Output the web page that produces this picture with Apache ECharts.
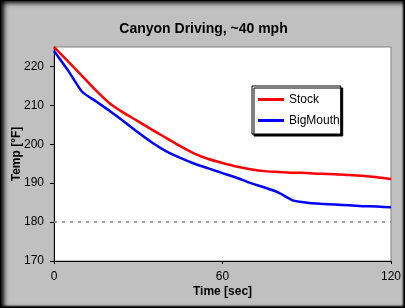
<!DOCTYPE html>
<html>
<head>
<meta charset="utf-8">
<script src="https://cdn.jsdelivr.net/npm/echarts@6/dist/echarts.min.js"></script>
<style>
  html, body { margin: 0; padding: 0; background: #c0c0c0; }
  #frame {
    position: relative; width: 405px; height: 308px; box-sizing: border-box;
    border: 1px solid #000; background: #c0c0c0;
    box-shadow: inset 3px 2px 5px #000, inset -1px -1px 2px #000;
  }
  #canyonChart { position: absolute; left: 0; top: 0; width: 405px; height: 308px; }
</style>
</head>
<body>
<div id="frame"><div id="canyonChart"></div></div>
<script>
// time in seconds
const timeSec = [0, 5, 10, 15, 20, 25, 30, 35, 40, 45, 50, 55, 60, 65, 70, 75, 80, 85, 90, 95, 100, 105, 110, 115, 120];
const stockTemp = [225, 221.3, 217.6, 213.8, 210.4, 208.0, 205.9, 203.7, 201.6, 199.5, 197.6, 196.2, 195.2, 194.3, 193.6, 193.1, 192.9, 192.7, 192.6, 192.4, 192.3, 192.1, 191.9, 191.5, 191.1];
const bigMouthTemp = [224, 219, 213.5, 211, 208.5, 205.8, 203, 200.4, 198.2, 196.5, 195, 193.8, 192.6, 191.4, 190, 188.9, 187.6, 185.6, 185, 184.7, 184.5, 184.3, 184.1, 184, 183.8];
const yTicks = [170, 180, 190, 200, 210, 220];
const xTicks = [0, 60, 120];
const limitTemp = 180;

const font = 'Arial, "Liberation Sans", sans-serif';
const pair = (xs, ys) => xs.map((x, i) => [x, ys[i]]);

const option = {
  animation: false,
  title: {
    text: 'Canyon Driving, ~40 mph',
    left: 'center', top: 16,
    textStyle: {fontFamily: font, fontSize: 14, fontWeight: 'bold', color: '#000'}
  },
  grid: {
    left: 53, right: 15, top: 46, bottom: 48, outerBoundsMode: 'none', containLabel: false,
    show: true, backgroundColor: '#fff', borderColor: '#808080', borderWidth: 1
  },
  legend: {
    orient: 'vertical', left: 251, top: 85,
    padding: [7, 1, 7, 6],
    itemWidth: 26, itemHeight: 3, itemGap: 8,
    icon: 'rect',
    backgroundColor: '#fff', borderColor: '#000', borderWidth: 1,
    shadowColor: '#000', shadowOffsetX: 2, shadowOffsetY: 2, shadowBlur: 0,
    textStyle: {fontFamily: font, fontSize: 12, color: '#000', lineHeight: 13},
    data: ['Stock', 'BigMouth']
  },
  xAxis: {
    type: 'value', min: 0, max: 120, interval: 60,
    name: 'Time [sec]', nameLocation: 'middle', nameGap: 25, nameMoveOverlap: false,
    nameTextStyle: {fontFamily: font, fontSize: 12, fontWeight: 'bold', color: '#000'},
    axisLine: {show: true, lineStyle: {color: '#000', width: 1}},
    axisTick: {show: true, length: 3, lineStyle: {color: '#000'}, customValues: xTicks},
    axisLabel: {fontFamily: font, fontSize: 12, color: '#000', margin: 10, customValues: xTicks},
    splitLine: {show: false}
  },
  yAxis: {
    type: 'value', min: 170, max: 225, interval: 10,
    name: 'Temp [°F]', nameLocation: 'middle', nameGap: 31, nameMoveOverlap: false,
    nameTextStyle: {fontFamily: font, fontSize: 12, fontWeight: 'bold', color: '#000'},
    axisLine: {show: true, lineStyle: {color: '#000', width: 1}},
    axisTick: {show: true, length: 4, lineStyle: {color: '#000'}, customValues: yTicks},
    axisLabel: {fontFamily: font, fontSize: 12, color: '#000', margin: 10, customValues: yTicks},
    splitLine: {show: false}
  },
  series: [
    {
      name: 'Stock', type: 'line', symbol: 'none', color: '#ff0000', smooth: 0.3,
      lineStyle: {width: 2.5}, data: pair(timeSec, stockTemp),
      markLine: {
        silent: true, symbol: 'none', label: {show: false},
        lineStyle: {color: '#808080', type: [3, 5], width: 1.5},
        data: [{yAxis: limitTemp}]
      }
    },
    {
      name: 'BigMouth', type: 'line', symbol: 'none', color: '#0000ff', smooth: 0.2,
      lineStyle: {width: 2.5}, data: pair(timeSec, bigMouthTemp)
    }
  ]
};

const chart = echarts.init(document.getElementById('canyonChart'));
chart.setOption(option);
</script>
</body>
</html>
